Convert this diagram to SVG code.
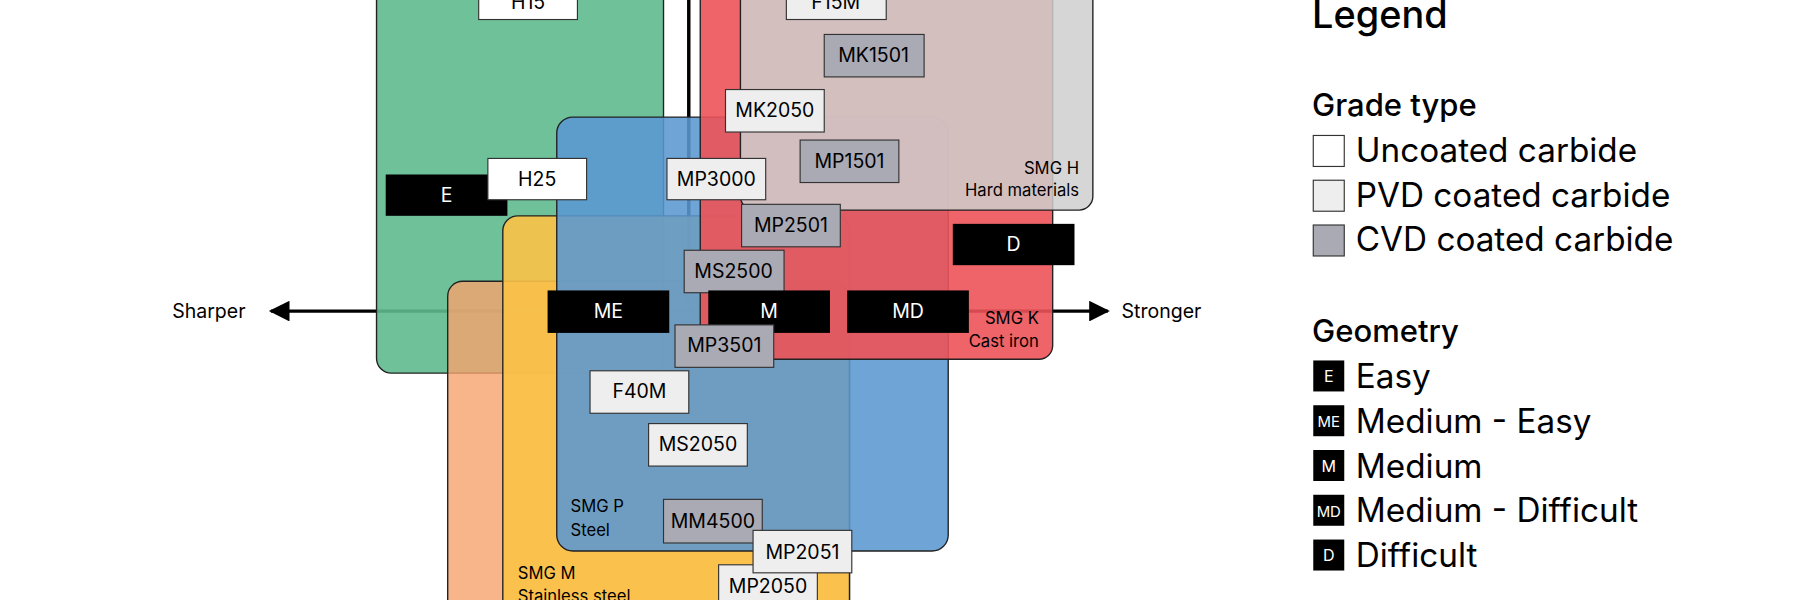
<svg xmlns="http://www.w3.org/2000/svg" width="1800" height="600" viewBox="0 0 1800 600">
<style>
text{font-family:Inter,"Liberation Sans",sans-serif;fill:#000}
.reg{stroke:#222;stroke-width:1.2}
.b{stroke:#333;stroke-width:1}
.u{fill:#fff}.p{fill:#eeeeee}.c{fill:#a9aab4}.k{fill:#000}
.bt{font-size:17px;text-anchor:middle}
.wt{font-size:17px;text-anchor:middle;fill:#fff}
.rl{font-size:14.5px}
.lg{font-size:29px}
.lh{font-size:27px;font-weight:500}
</style>
<defs>
<marker id="ah" viewBox="0 0 10 10" refX="9" refY="5" markerWidth="6.5" markerHeight="6" orient="auto-start-reverse"><path d="M0,0L10,5L0,10z" fill="#000"/></marker>
</defs>
<rect width="1800" height="600" fill="#fff"/>
<g transform="scale(1.14796)">
<g id="connectors">
<line x1="600" y1="-20" x2="600" y2="271" stroke="#000" stroke-width="3"/>
<line x1="236" y1="271" x2="965" y2="271" stroke="#000" stroke-width="3" marker-start="url(#ah)" marker-end="url(#ah)"/>
</g>
<g id="axis-labels">
<text x="150" y="277" font-size="17">Sharper</text>
<text x="977" y="277" font-size="17">Stronger</text>
</g>
<g id="smg-n"><rect class="reg" x="328" y="-30" width="250" height="355" rx="13" fill="#5fba8e" fill-opacity="0.9"/></g>
<g id="smg-s"><rect class="reg" x="390" y="245" width="350" height="320" rx="13" fill="#f6a26c" fill-opacity="0.8"/></g>
<g id="smg-m"><rect class="reg" x="438" y="188" width="302" height="380" rx="13" fill="#fbc247" fill-opacity="0.9"/>
<text class="rl" x="451" y="504">SMG M</text><text class="rl" x="451" y="524">Stainless steel</text></g>
<g id="smg-p"><rect class="reg" x="485" y="102" width="341" height="378" rx="14" fill="#5b97d2" fill-opacity="0.88"/>
<text class="rl" x="497" y="446">SMG P</text><text class="rl" x="497" y="467">Steel</text></g>
<g id="smg-k"><rect class="reg" x="610" y="-30" width="307" height="343" rx="12" fill="#ec5358" fill-opacity="0.9"/>
<text class="rl" x="905" y="282" text-anchor="end">SMG K</text><text class="rl" x="905" y="302" text-anchor="end">Cast iron</text></g>
<g id="smg-h"><rect class="reg" x="645" y="-30" width="307" height="213" rx="12" fill="#cfcfcf" fill-opacity="0.85"/>
<text class="rl" x="940" y="152" text-anchor="end">SMG H</text><text class="rl" x="940" y="171" text-anchor="end">Hard materials</text></g>
<g id="h15"><rect class="b u" x="417" y="-20" width="86" height="37"/><text class="bt" x="460" y="8">H15</text></g>
<g id="f15m"><rect class="b p" x="685" y="-20" width="87" height="37"/><text class="bt" x="728" y="8">F15M</text></g>
<g id="mk1501"><rect class="b c" x="718" y="30" width="87" height="37"/><text class="bt" x="761" y="54">MK1501</text></g>
<g id="mk2050"><rect class="b p" x="632" y="78" width="86" height="37"/><text class="bt" x="675" y="102">MK2050</text></g>
<g id="mp1501"><rect class="b c" x="697" y="122" width="86" height="37"/><text class="bt" x="740" y="146">MP1501</text></g>
<g id="e"><rect class="k" x="336" y="152" width="106" height="36"/><text class="wt" x="389" y="176">E</text></g>
<g id="h25"><rect class="b u" x="425" y="138" width="86" height="36"/><text class="bt" x="468" y="162">H25</text></g>
<g id="mp3000"><rect class="b p" x="581" y="138" width="86" height="36"/><text class="bt" x="624" y="162">MP3000</text></g>
<g id="mp2501"><rect class="b c" x="646" y="178" width="86" height="37"/><text class="bt" x="689" y="202">MP2501</text></g>
<g id="d"><rect class="k" x="830" y="195" width="106" height="36"/><text class="wt" x="883" y="219">D</text></g>
<g id="ms2500"><rect class="b c" x="596" y="218" width="87" height="37"/><text class="bt" x="639" y="242">MS2500</text></g>
<g id="me"><rect class="k" x="477" y="253" width="106" height="37"/><text class="wt" x="530" y="277">ME</text></g>
<g id="m"><rect class="k" x="617" y="253" width="106" height="37"/><text class="wt" x="670" y="277">M</text></g>
<g id="md"><rect class="k" x="738" y="253" width="106" height="37"/><text class="wt" x="791" y="277">MD</text></g>
<g id="mp3501"><rect class="b c" x="588" y="283" width="86" height="37"/><text class="bt" x="631" y="307">MP3501</text></g>
<g id="f40m"><rect class="b p" x="514" y="323" width="86" height="37"/><text class="bt" x="557" y="347">F40M</text></g>
<g id="ms2050"><rect class="b p" x="565" y="369" width="86" height="37"/><text class="bt" x="608" y="393">MS2050</text></g>
<g id="mm4500"><rect class="b c" x="578" y="435" width="86" height="38"/><text class="bt" x="621" y="460">MM4500</text></g>
<g id="mp2050"><rect class="b p" x="626" y="492" width="86" height="37"/><text class="bt" x="669" y="517">MP2050</text></g>
<g id="mp2051"><rect class="b p" x="656" y="462" width="86" height="37"/><text class="bt" x="699" y="487">MP2051</text></g>
<g id="legend">
<text x="1143" y="24" font-size="33" font-weight="500">Legend</text>
<text class="lh" x="1143" y="101">Grade type</text>
<rect class="b u" x="1144" y="118" width="27" height="27" stroke-width="1.5"/><text class="lg" x="1181" y="141">Uncoated carbide</text>
<rect class="b p" x="1144" y="157" width="27" height="27" stroke-width="1.5"/><text class="lg" x="1181" y="180">PVD coated carbide</text>
<rect class="b c" x="1144" y="196" width="27" height="27" stroke-width="1.5"/><text class="lg" x="1181" y="219">CVD coated carbide</text>
<text class="lh" x="1143" y="298">Geometry</text>
<rect class="k" x="1144" y="314" width="27" height="27"/><text x="1157.5" y="333" font-size="14" text-anchor="middle" style="fill:#fff">E</text><text class="lg" x="1181" y="338">Easy</text>
<rect class="k" x="1144" y="353" width="27" height="27"/><text x="1157.5" y="372" font-size="13" text-anchor="middle" style="fill:#fff">ME</text><text class="lg" x="1181" y="377">Medium - Easy</text>
<rect class="k" x="1144" y="392" width="27" height="27"/><text x="1157.5" y="411" font-size="14" text-anchor="middle" style="fill:#fff">M</text><text class="lg" x="1181" y="416">Medium</text>
<rect class="k" x="1144" y="431" width="27" height="27"/><text x="1157.5" y="450" font-size="13" text-anchor="middle" style="fill:#fff">MD</text><text class="lg" x="1181" y="455">Medium - Difficult</text>
<rect class="k" x="1144" y="470" width="27" height="27"/><text x="1157.5" y="489" font-size="14" text-anchor="middle" style="fill:#fff">D</text><text class="lg" x="1181" y="494">Difficult</text>
</g>
</g>
</svg>
